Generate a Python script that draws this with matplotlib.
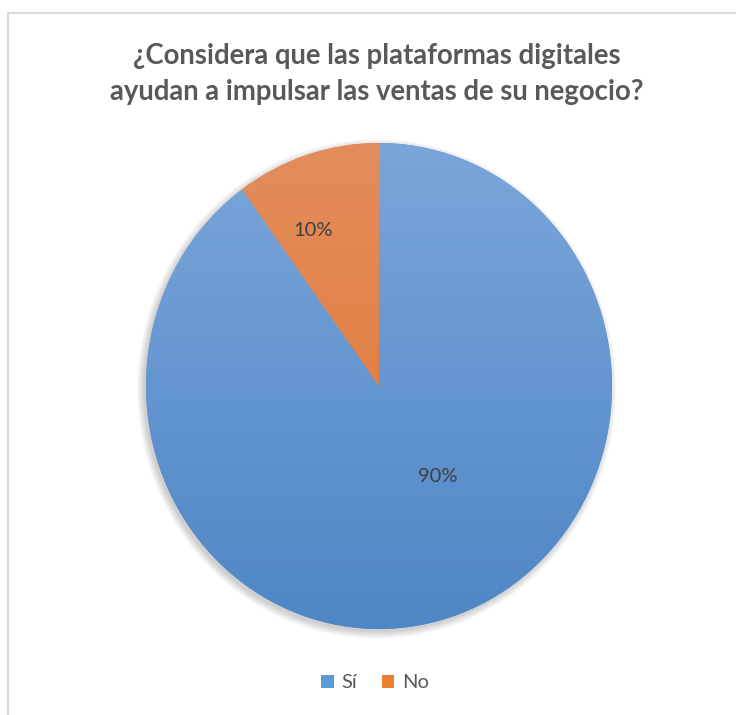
import numpy as np
import matplotlib
matplotlib.use("Agg")
import matplotlib.pyplot as plt
from matplotlib.colors import LinearSegmentedColormap
from matplotlib.patches import Rectangle, Patch

title = "¿Considera que las plataformas digitales\nayudan a impulsar las ventas de su negocio?"
labels = ["Sí", "No"]
values = [90, 10]
top_colors = ["#7aa6da", "#e38d5c"]
bottom_colors = ["#4f86c5", "#e0742e"]
legend_colors = ["#5b9bd5", "#ed7d31"]

plt.rcParams['font.family'] = ['Lato', 'DejaVu Sans']

fig = plt.figure(figsize=(7.36, 7.15), dpi=100)
W, H = 736, 715

# frame border (left and top visible)
fig.add_artist(Rectangle((8 / W, -0.1), 1.2, (715 - 13) / H + 0.1, transform=fig.transFigure,
                         fill=False, edgecolor="#d9d9d9", linewidth=1.5))

cx, cy, rx, ry = 379, 386, 233, 243
ax = fig.add_axes([(cx - rx) / W, (H - cy - ry) / H, 2 * rx / W, 2 * ry / H])
ax.axis("off")

# soft shadow
for i in range(8):
    ax.pie([1], radius=1.0 + 0.004 * i, center=(-0.01, -0.012), colors=["#000000"],
           wedgeprops=dict(alpha=0.025, linewidth=0))

wedges, _ = ax.pie(values, startangle=90, counterclock=False, colors=legend_colors,
                   wedgeprops=dict(linewidth=0))
ax.set_aspect("auto")

grad = np.linspace(1, 0, 256).reshape(-1, 1)
for w, tc, bc in zip(wedges, top_colors, bottom_colors):
    cmap = LinearSegmentedColormap.from_list("g", [bc, tc])
    im = ax.imshow(grad, extent=(-1, 1, -1, 1), cmap=cmap, aspect="auto", zorder=w.get_zorder() + 0.1,
                   origin="upper")
    im.set_clip_path(w)
ax.set_xlim(-1.0, 1.0)
ax.set_ylim(-1.0, 1.0)

ax.text((438 - cx) / rx, -(476 - cy) / ry, f"{values[0]}%", ha="center", va="center",
        fontsize=14.5, color="#404040", zorder=10)
ax.text((313 - cx) / rx, -(231 - cy) / ry, f"{values[1]}%", ha="center", va="center",
        fontsize=14.5, color="#404040", zorder=10)

fig.text(377 / W, 1 - 74 / H, title, ha="center", va="center", fontsize=19.8,
         fontweight="bold", color="#595959", linespacing=1.45)

handles = [Patch(facecolor=c, edgecolor="none") for c in legend_colors]
fig.legend(handles, labels, loc="center", bbox_to_anchor=(375 / W, 1 - 683 / H), ncol=2,
           frameon=False, fontsize=14.5, handlelength=0.6, handleheight=0.6,
           handletextpad=0.4, columnspacing=1.2, labelcolor="#595959")

fig.savefig("out.png", dpi=100)
